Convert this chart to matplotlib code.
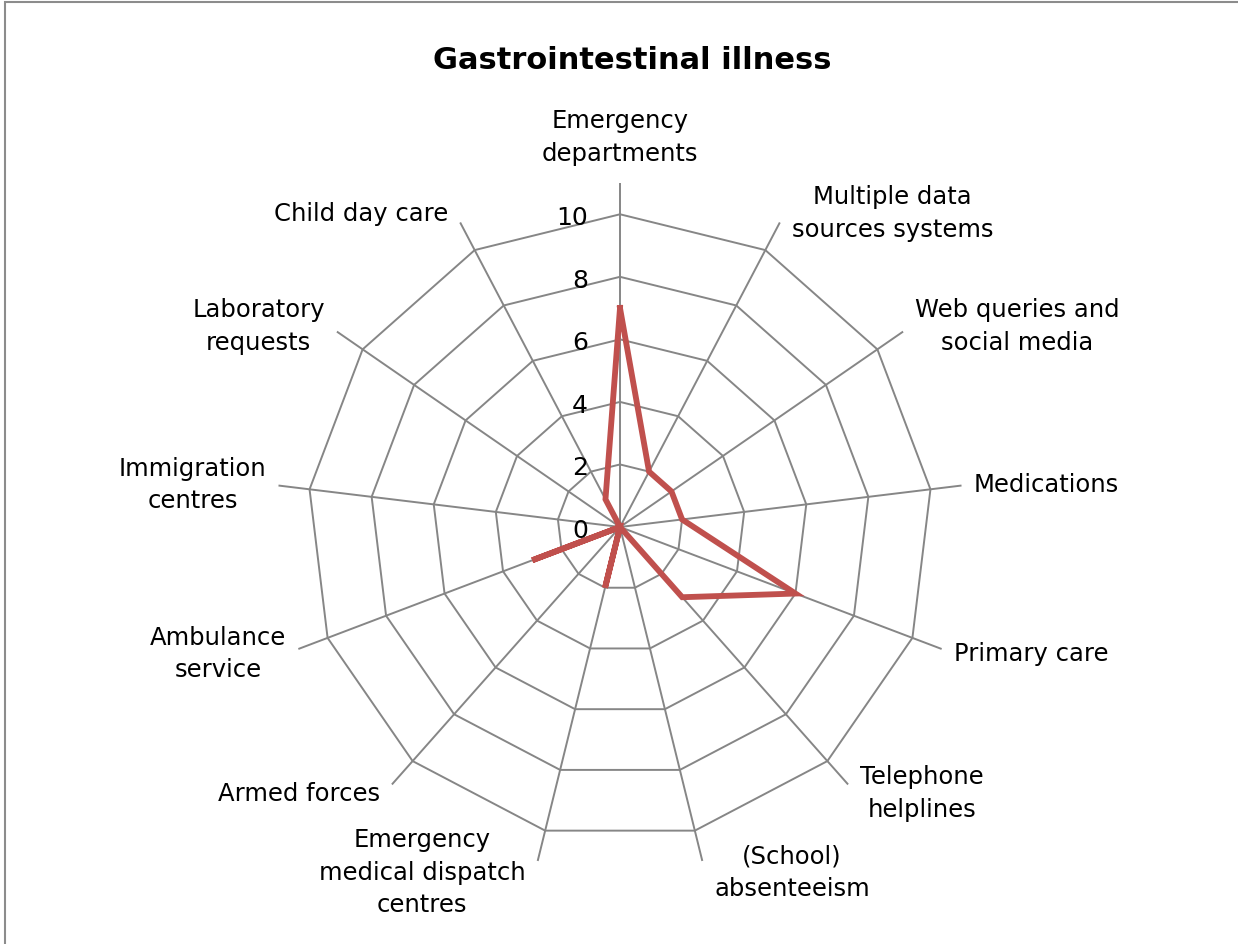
import numpy as np
import matplotlib
matplotlib.use("Agg")
import matplotlib.pyplot as plt
from matplotlib.patches import Rectangle

# ------------------------------------------------------------------
# data (clockwise from the top)
# ------------------------------------------------------------------
categories = [
    "Emergency\ndepartments",
    "Multiple data\nsources systems",
    "Web queries and\nsocial media",
    "Medications",
    "Primary care",
    "Telephone\nhelplines",
    "(School)\nabsenteeism",
    "Emergency\nmedical dispatch\ncentres",
    "Armed forces",
    "Ambulance\nservice",
    "Immigration\ncentres",
    "Laboratory\nrequests",
    "Child day care",
]
values = [7, 2, 2, 2, 6, 3, 0, 2, 0, 3, 0, 0, 1]
r_ticks = [0, 2, 4, 6, 8, 10]
title = "Gastrointestinal illness"

GRID = "#868686"
LINE = "#C0504D"
FONT = "DejaVu Sans"
R_MAX = 11

plt.rcParams["font.family"] = FONT

fig = plt.figure(figsize=(12.38, 9.45), dpi=100)
fig.patch.set_facecolor("white")

# outer chart frame
fig.patches.append(Rectangle((0.004, -0.01), 1.02, 1.007, transform=fig.transFigure,
                             fill=False, edgecolor="#8c8c8c", lw=1.5))

ax = fig.add_axes([0.22294, 0.07725, 0.55574, 0.72804], projection="polar")
ax.set_theta_offset(np.pi / 2)
ax.set_theta_direction(-1)
ax.set_ylim(0, R_MAX)
ax.grid(False)
ax.set_xticks([])
ax.set_yticks([])
ax.spines["polar"].set_visible(False)
ax.patch.set_alpha(0)

n = len(categories)
theta = np.arange(n) * 2 * np.pi / n
theta_c = np.append(theta, theta[0])

# polygon rings
for r in r_ticks[1:]:
    ax.plot(theta_c, [r] * (n + 1), color=GRID, lw=1.4, zorder=1)
# spokes
for t in theta:
    ax.plot([t, t], [0, R_MAX], color=GRID, lw=1.4, zorder=1)

# data series
vals_c = values + values[:1]
ax.plot(theta_c, vals_c, color=LINE, lw=4.2, solid_joinstyle="miter", zorder=3,
        clip_on=False)

# radial tick labels, left of the top spoke
for r in r_ticks:
    ax.annotate(str(r), xy=(0, r), xytext=(-32, -3), textcoords="offset pixels",
                ha="right", va="center", fontsize=18, color="black", zorder=4)

# category labels
for t, lab in zip(theta, categories):
    s, c = np.sin(t), np.cos(t)
    if abs(s) < 0.05:
        ha, va = "center", "bottom"
        off = (0, 18)
    else:
        ha = "left" if s > 0 else "right"
        va = "center"
        off = (12 * np.sign(s), 11 * c)
    ax.annotate(lab, xy=(t, R_MAX), xytext=off, textcoords="offset pixels",
                ha=ha, va=va, multialignment="center", fontsize=17.5,
                linespacing=1.45, annotation_clip=False)

fig.text(0.5105, 0.927, title, ha="center", va="baseline", fontsize=22,
         fontweight="bold")

fig.savefig("out.png", dpi=100, facecolor="white")
